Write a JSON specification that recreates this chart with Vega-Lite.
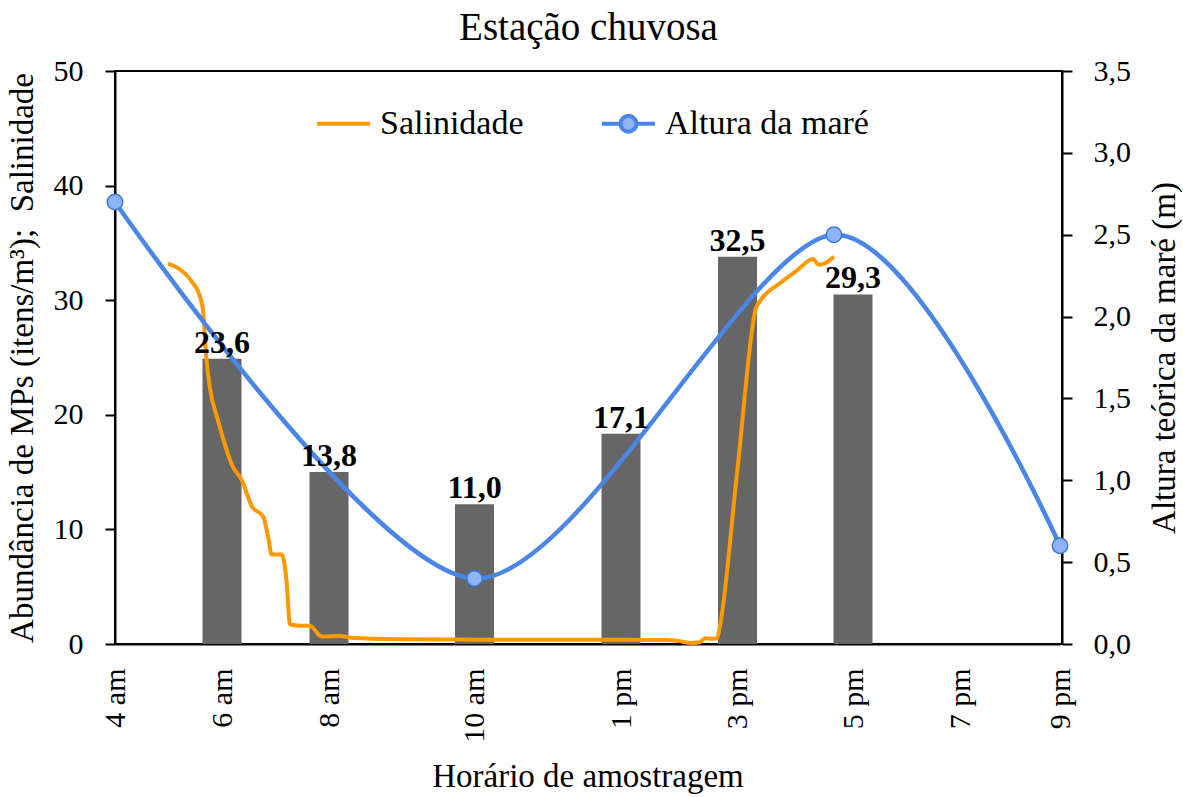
{
  "$schema": "https://vega.github.io/schema/vega-lite/v6.json",
  "width": 947,
  "height": 573,
  "autosize": {"type": "none"},
  "padding": {"left": 115, "top": 71, "right": 121, "bottom": 153},
  "background": "white",
  "title": {"text": "Estação chuvosa", "font": "Liberation Serif", "fontSize": 39, "fontWeight": "normal", "color": "black", "offset": 8},
  "config": {
    "view": {"stroke": "black", "strokeWidth": 2},
    "axis": {"labelFont": "Liberation Serif", "titleFont": "Liberation Serif", "labelFontSize": 30, "titleFontSize": 33, "titleFontWeight": "normal", "labelColor": "black", "titleColor": "black", "domainColor": "black", "tickColor": "black", "domainWidth": 2, "tickWidth": 2, "grid": false}
  },
  "datasets": {
    "mps": [
      {"hora": 6, "barra": 24.9, "rotulo": "23,6"},
      {"hora": 8, "barra": 15.0, "rotulo": "13,8"},
      {"hora": 10, "barra": 12.2, "rotulo": "11,0"},
      {"hora": 13, "barra": 18.35, "rotulo": "17,1"},
      {"hora": 15, "barra": 33.8, "rotulo": "32,5"},
      {"hora": 17, "barra": 30.5, "rotulo": "29,3"}
    ],
    "sal": [
      {"hora": 4.99, "valor": 33.2, "serie": "Salinidade"},
      {"hora": 5.21, "valor": 32.7, "serie": "Salinidade"},
      {"hora": 5.44, "valor": 31.6, "serie": "Salinidade"},
      {"hora": 5.59, "valor": 30.3, "serie": "Salinidade"},
      {"hora": 5.65, "valor": 28.9, "serie": "Salinidade"},
      {"hora": 5.68, "valor": 26.8, "serie": "Salinidade"},
      {"hora": 5.71, "valor": 24.8, "serie": "Salinidade"},
      {"hora": 5.78, "valor": 22.2, "serie": "Salinidade"},
      {"hora": 5.92, "valor": 19.6, "serie": "Salinidade"},
      {"hora": 6.2, "valor": 15.5, "serie": "Salinidade"},
      {"hora": 6.37, "valor": 14.3, "serie": "Salinidade"},
      {"hora": 6.56, "valor": 12.0, "serie": "Salinidade"},
      {"hora": 6.77, "valor": 11.1, "serie": "Salinidade"},
      {"hora": 6.86, "valor": 9.4, "serie": "Salinidade"},
      {"hora": 6.93, "valor": 7.8, "serie": "Salinidade"},
      {"hora": 7.12, "valor": 7.8, "serie": "Salinidade"},
      {"hora": 7.21, "valor": 5.3, "serie": "Salinidade"},
      {"hora": 7.27, "valor": 1.7, "serie": "Salinidade"},
      {"hora": 7.46, "valor": 1.6, "serie": "Salinidade"},
      {"hora": 7.64, "valor": 1.6, "serie": "Salinidade"},
      {"hora": 7.86, "valor": 0.66, "serie": "Salinidade"},
      {"hora": 8.15, "valor": 0.7, "serie": "Salinidade"},
      {"hora": 8.34, "valor": 0.52, "serie": "Salinidade"},
      {"hora": 8.98, "valor": 0.42, "serie": "Salinidade"},
      {"hora": 10, "valor": 0.38, "serie": "Salinidade"},
      {"hora": 11.5, "valor": 0.36, "serie": "Salinidade"},
      {"hora": 13, "valor": 0.36, "serie": "Salinidade"},
      {"hora": 13.8, "valor": 0.35, "serie": "Salinidade"},
      {"hora": 14.0, "valor": 0.25, "serie": "Salinidade"},
      {"hora": 14.2, "valor": 0.08, "serie": "Salinidade"},
      {"hora": 14.35, "valor": 0.15, "serie": "Salinidade"},
      {"hora": 14.45, "valor": 0.5, "serie": "Salinidade"},
      {"hora": 14.56, "valor": 0.45, "serie": "Salinidade"},
      {"hora": 14.65, "valor": 0.5, "serie": "Salinidade"},
      {"hora": 14.7, "valor": 1.6, "serie": "Salinidade"},
      {"hora": 15.0, "valor": 15.3, "serie": "Salinidade"},
      {"hora": 15.32, "valor": 29.3, "serie": "Salinidade"},
      {"hora": 15.4, "valor": 30.0, "serie": "Salinidade"},
      {"hora": 15.74, "valor": 31.5, "serie": "Salinidade"},
      {"hora": 16.03, "valor": 32.6, "serie": "Salinidade"},
      {"hora": 16.31, "valor": 33.6, "serie": "Salinidade"},
      {"hora": 16.4, "valor": 33.1, "serie": "Salinidade"},
      {"hora": 16.5, "valor": 33.2, "serie": "Salinidade"},
      {"hora": 16.67, "valor": 33.8, "serie": "Salinidade"}
    ],
    "mare": [
      {"hora": 4, "altura": 2.7, "serie": "Altura da maré"},
      {"hora": 10, "altura": 0.4, "serie": "Altura da maré"},
      {"hora": 16.67, "altura": 2.5, "serie": "Altura da maré"},
      {"hora": 21, "altura": 0.6, "serie": "Altura da maré"}
    ]
  },
  "layer": [
    {
      "data": {"name": "mps"},
      "mark": {"type": "bar", "color": "#666666", "width": 39},
      "encoding": {
        "x": {
          "field": "hora", "type": "quantitative",
          "scale": {"domain": [4, 6, 8, 10, 13, 15, 17, 19, 21], "range": [0, 107, 214, 359.5, 506, 622.5, 738, 845, 945], "nice": false, "zero": false, "padding": 0},
          "axis": {"title": "Horário de amostragem", "values": [4, 6, 8, 10, 13, 15, 17, 19, 21], "labelAngle": -90, "ticks": false, "tickSize": 0, "labelPadding": 24, "titlePadding": 18, "labelExpr": "datum.value < 12 ? datum.value + ' am' : (datum.value - 12) + ' pm'"}
        },
        "y": {
          "field": "barra", "type": "quantitative",
          "scale": {"domain": [0, 50], "nice": false},
          "axis": {"title": "Abundância de MPs (itens/m³);\u00a0 Salinidade", "values": [0, 10, 20, 30, 40, 50], "tickSize": 10, "labelPadding": 22, "titlePadding": 14}
        }
      }
    },
    {
      "data": {"name": "sal"},
      "mark": {"type": "line", "strokeWidth": 4, "interpolate": "monotone"},
      "encoding": {
        "x": {"field": "hora", "type": "quantitative"},
        "y": {"field": "valor", "type": "quantitative", "scale": {"domain": [0, 50], "nice": false}, "axis": null},
        "color": {
          "field": "serie", "type": "nominal",
          "scale": {"domain": ["Salinidade", "Altura da maré"], "range": ["#FF9900", "#4A86E8"]},
          "legend": {
            "title": null, "orient": "none", "legendX": 200, "legendY": 24, "direction": "horizontal",
            "labelFont": "Liberation Serif", "labelFontSize": 34, "labelColor": "black", "labelOffset": 8, "labelLimit": 0,
            "symbolSize": 2800, "symbolStrokeWidth": 4, "symbolType": "stroke", "columnPadding": 70,
            "encode": {"symbols": {"update": {
              "shape": {"signal": "datum.value === 'Altura da maré' ? 'M-1,0L-0.3,0M0.3,0L1,0M-0.3,0A0.3,0.3,0,1,1,0.3,0A0.3,0.3,0,1,1,-0.3,0Z' : 'M-1,0L1,0'"},
              "fill": {"signal": "datum.value === 'Altura da maré' ? '#8DB4F7' : 'transparent'"}
            }}}
          }
        }
      }
    },
    {
      "data": {"name": "mare"},
      "mark": {"type": "line", "strokeWidth": 4.5, "interpolate": "cardinal", "tension": 0.15},
      "encoding": {
        "x": {"field": "hora", "type": "quantitative"},
        "y": {
          "field": "altura", "type": "quantitative",
          "scale": {"domain": [0, 3.5], "nice": false},
          "axis": {"orient": "right", "title": "Altura teórica da maré (m)", "values": [0, 0.5, 1, 1.5, 2, 2.5, 3, 3.5], "tickSize": 10, "labelPadding": 21, "titlePadding": 18, "titleAngle": -90, "titleBaseline": "top", "labelExpr": "replace(format(datum.value, '.1f'), '.', ',')"}
        },
        "color": {"field": "serie", "type": "nominal"}
      }
    },
    {
      "data": {"name": "mare"},
      "mark": {"type": "point", "filled": true, "size": 240, "fill": "#8DB4F7", "stroke": "#3C78D8", "strokeWidth": 1.5, "opacity": 1},
      "encoding": {
        "x": {"field": "hora", "type": "quantitative"},
        "y": {"field": "altura", "type": "quantitative", "scale": {"domain": [0, 3.5], "nice": false}, "axis": null}
      }
    },
    {
      "data": {"name": "mps"},
      "mark": {"type": "text", "font": "Liberation Serif", "fontSize": 32, "fontWeight": "bold", "color": "black", "baseline": "alphabetic", "dy": -6},
      "encoding": {
        "x": {"field": "hora", "type": "quantitative"},
        "y": {"field": "barra", "type": "quantitative", "scale": {"domain": [0, 50], "nice": false}, "axis": null},
        "text": {"field": "rotulo"}
      }
    }
  ],
  "resolve": {"scale": {"y": "independent"}}
}
